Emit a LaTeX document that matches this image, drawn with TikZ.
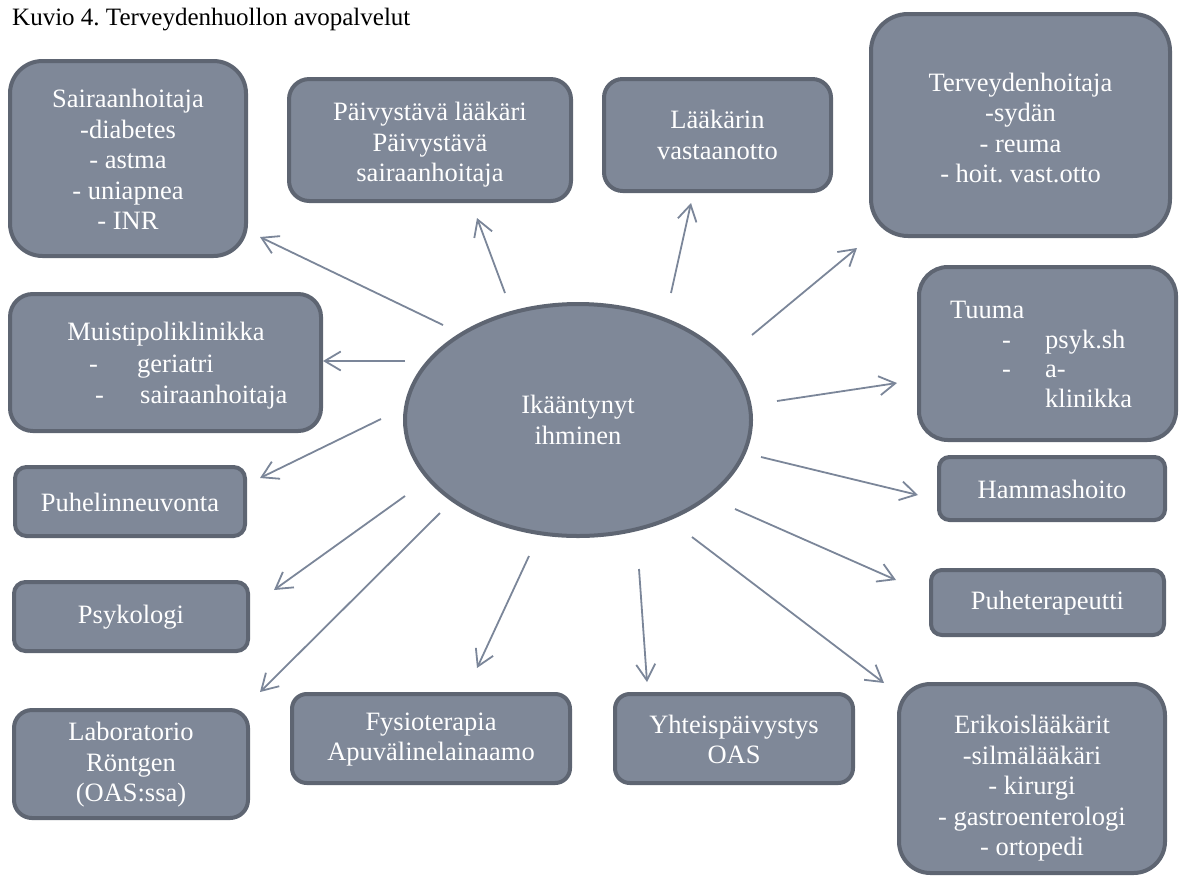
\documentclass[tikz,border=0pt]{standalone}
\usepackage{fontspec}
\setmainfont{Liberation Serif}
\frenchspacing
\usetikzlibrary{arrows.meta,shapes.geometric}
\definecolor{boxfill}{HTML}{7F8898}
\definecolor{boxline}{HTML}{5E6572}
\definecolor{arrowcol}{HTML}{7B8699}
% name, x1, y1, x2, y2, text, downward text shift
\newcommand\rbox[7]{%
  \pgfmathsetmacro\rbW{#4-#2-4}%
  \pgfmathsetmacro\rbH{#5-#3-4}%
  \pgfmathsetmacro\rbR{min(\rbW,\rbH)/6}%
  \node[box, minimum width=\rbW pt, minimum height=\rbH pt, rounded corners=\rbR pt] (#1) at ({(#2+#4)/2},{(#3+#5)/2}) {};
  \node[boxtext, yshift=-#7 pt] (#1-t) at (#1.center) {#6};}
\begin{document}
\begin{tikzpicture}[x=1pt,y=-1pt,
  box/.style={draw=boxline, line width=4pt, fill=boxfill, inner sep=0pt},
  boxtext/.style={text=white, align=center, font=\fontsize{26.5}{30.5}\selectfont, inner sep=0pt},
  txt/.style={text=white, font=\fontsize{26.5}{30.5}\selectfont, inner sep=0pt, anchor=base west},
  arr/.style={draw=arrowcol, line width=1.8pt, -{Straight Barb[length=16pt,width=19pt]}}]
\useasboundingbox (0,0) rectangle (1182,879);
\node[anchor=base west, inner sep=0pt, font=\fontsize{25}{30}\selectfont] (title) at (12,25) {Kuvio 4. Terveydenhuollon avopalvelut};

% boxes
\rbox{sair}{8}{59}{248}{258}{Sairaanhoitaja\\-diabetes\\- astma\\- uniapnea\\- INR}{1}
\rbox{paiv}{287}{77}{573}{203}{Päivystävä lääkäri\\Päivystävä\\sairaanhoitaja}{5}
\rbox{laak}{602}{77}{833}{193}{Lääkärin\\vastaanotto}{0}
\rbox{terv}{869}{12}{1172}{238}{Terveydenhoitaja\\-sydän\\- reuma\\- hoit. vast.otto}{3}
\rbox{tuuma}{917}{265}{1178}{442}{}{0}
\rbox{hamm}{937}{455}{1167}{522}{Hammashoito}{1}
\rbox{puhe}{929}{568}{1166}{637}{Puheterapeutti}{1}
\rbox{erik}{897}{682}{1167}{875}{Erikoislääkärit\\-silmälääkäri\\- kirurgi\\- gastroenterologi\\- ortopedi}{10}
\rbox{yht}{613}{692}{855}{785}{Yhteispäivystys\\OAS}{1}
\rbox{fysio}{290}{692}{572}{785}{Fysioterapia\\Apuvälinelainaamo}{1}
\rbox{lab}{12}{708}{250}{820}{Laboratorio\\Röntgen\\(OAS:ssa)}{1}
\rbox{psyk}{12}{580}{250}{653}{Psykologi}{1}
\rbox{puhel}{13}{465}{247}{538}{Puhelinneuvonta}{1}
\rbox{muisti}{8}{292}{323}{433}{}{0}

% texts inside list boxes
\node[txt] (tu1) at (950,318) {Tuuma};
\node[txt] (tu2) at (1002,348) {-};
\node[txt] (tu3) at (1045,348) {psyk.sh};
\node[txt] (tu4) at (1002,377) {-};
\node[txt] (tu5) at (1045,377) {a-};
\node[txt] (tu6) at (1045,407) {klinikka};
\node[txt, anchor=base] (mu1) at (166,340) {Muistipoliklinikka};
\node[txt] (mu2) at (89,372) {-};
\node[txt] (mu3) at (137,372) {geriatri};
\node[txt] (mu4) at (95,403) {-};
\node[txt] (mu5) at (140,403) {sairaanhoitaja};

% centre
\node[ellipse, draw=boxline, line width=4pt, fill=boxfill, text=white, align=center,
  font=\fontsize{26.5}{30.5}\selectfont, inner sep=0pt,
  minimum width=346pt, minimum height=232pt] (ika) at (578,420) {Ikääntynyt\\ihminen};

% arrow end points
\coordinate (s1) at (443,325); \coordinate (e1) at (260,237);
\coordinate (s2) at (405,361); \coordinate (e2) at (323,361);
\coordinate (s3) at (505,293); \coordinate (e3) at (477,218);
\coordinate (s4) at (671,293); \coordinate (e4) at (691,203);
\coordinate (s5) at (752,335); \coordinate (e5) at (857,248);
\coordinate (s6) at (777,401); \coordinate (e6) at (897,383);
\coordinate (s7) at (761,457); \coordinate (e7) at (918,495);
\coordinate (s8) at (735,509); \coordinate (e8) at (896,580);
\coordinate (s9) at (692,537); \coordinate (e9) at (884,683);
\coordinate (s10) at (639,569); \coordinate (e10) at (647,682);
\coordinate (s11) at (529,556); \coordinate (e11) at (477,668);
\coordinate (s12) at (440,513); \coordinate (e12) at (260,692);
\coordinate (s13) at (405,496); \coordinate (e13) at (274,590);
\coordinate (s14) at (381,419); \coordinate (e14) at (260,478);
\foreach \i in {1,...,14} {\draw[arr] (s\i) -- (e\i);}
\end{tikzpicture}
\end{document}
